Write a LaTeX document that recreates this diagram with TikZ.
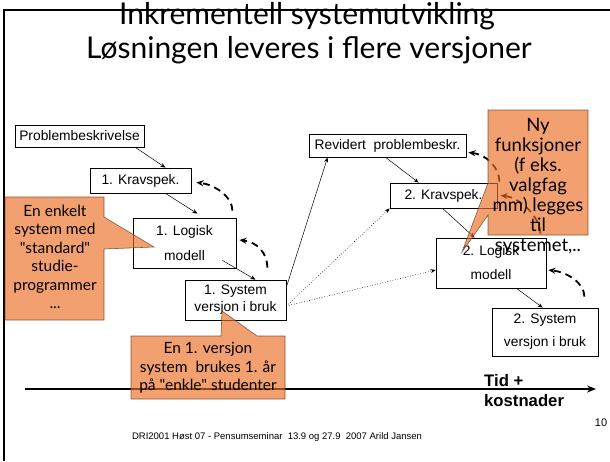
\documentclass[tikz,border=0pt]{standalone}
\usepackage{fontspec}
\setmainfont{Liberation Sans}
\newfontfamily\comicf{Lato}
\usetikzlibrary{arrows.meta}
\definecolor{bubblefill}{RGB}{238,110,36}
\definecolor{bubbleedge}{RGB}{110,60,30}
\begin{document}
\begin{tikzpicture}[x=1pt,y=-1pt,
  box/.style={draw=black, line width=0.8pt, fill=white, inner sep=0pt, font=\fontsize{13.8}{16}\selectfont, align=center},
  conn/.style={line width=0.5pt, -{Stealth[length=5pt,width=4pt]}},
  dotconn/.style={line width=0.6pt, dotted, -{Stealth[length=5pt,width=4pt]}},
  dasharc/.style={line width=1.8pt, dash pattern=on 7pt off 5pt, -{Stealth[length=7pt,width=6pt]}},
  bubble/.style={fill=bubblefill, fill opacity=0.65, draw=bubbleedge, draw opacity=0.8, line width=0.6pt},
  btext/.style={font=\comicf\fontsize{15.5}{18.5}\selectfont, align=center, inner sep=0pt},
]
\useasboundingbox (0,0) rectangle (610,461);
\fill[white] (0,0) rectangle (610,461);
% frame
\draw[line width=2pt] (4,461) -- (4,10) -- (610,10);
% title
\node[font=\comicf\fontsize{30}{34}\selectfont, anchor=base] (t1) at (307,24) {Inkrementell systemutvikling};
\node[font=\comicf\fontsize{30}{34}\selectfont, anchor=base] (t2) at (309,58) {Løsningen leveres i flere versjoner};
% boxes
\node[box, minimum width=129pt, minimum height=22pt] (pb) at (79.5,136) {Problembeskrivelse};
\node[box, minimum width=101pt, minimum height=25pt] (k1) at (140.5,180.5) {1. Kravspek.};
\node[box, minimum width=103pt, minimum height=50pt] (l1) at (184.5,243) {1. Logisk\\[9pt]modell};
\node[box, minimum width=101pt, minimum height=40pt] (s1) at (235.5,300) {1. System\\[1pt]versjon i bruk};
\node[box, minimum width=157pt, minimum height=23pt] (rp) at (387.5,145.5) {Revidert\ \ problembeskr.};
\node[box, minimum width=107pt, minimum height=25pt] (k2) at (443.5,195.5) {2. Kravspek.};
\node[box, minimum width=110pt, minimum height=50pt] (l2) at (491,263) {2. Logisk\\[8pt]modell};
\node[box, minimum width=106pt, minimum height=48pt] (s2) at (545,332) {2. System\\[7pt]versjon i bruk};
% solid connectors
\draw[conn] ([xshift=-9pt]pb.south east) -- ([xshift=-26pt]k1.north east);
\draw[conn] ([xshift=-26pt]k1.south east) -- ([xshift=-39pt,yshift=4pt]l1.north east);
\draw[conn] ([xshift=-14pt,yshift=8pt]l1.south east) -- ([xshift=-31pt]s1.north east);
\draw[conn] ([yshift=13pt]s1.east) -- ([xshift=19pt]rp.south west);
\draw[conn] ([xshift=77pt]rp.south west) -- ([xshift=29pt]k2.north west);
\draw[conn] ([xshift=53pt]k2.south west) -- ([xshift=39pt]l2.north west);
\draw[conn] ([xshift=81pt]l2.south west) -- ([xshift=51pt]s2.north west);
% dotted connectors
\draw[dotconn] ([yshift=-6pt]s1.east) -- (k2.south west);
\draw[dotconn] ([yshift=-6pt]s1.east) -- ([yshift=-7pt]l2.west);
% dashed feedback arcs
\draw[dasharc] ([xshift=-4pt,yshift=7pt]l1.north east) .. controls +(0,-14) and +(18,2) .. ([xshift=5pt,yshift=-2pt]k1.east);
\draw[dasharc] ([xshift=-19pt,yshift=12pt]s1.north east) .. controls +(0,-14) and +(18,2) .. ([xshift=3pt,yshift=3pt]l1.east);
\draw[dasharc] ([xshift=2pt,yshift=1pt]k2.north east) .. controls +(0,-14) and +(18,2) .. ([xshift=2pt,yshift=-7pt]rp.east);
\draw[dasharc] ([xshift=-6pt,yshift=4pt]l2.north east) .. controls +(0,-16) and +(20,2) .. ([xshift=3pt]k2.east);
\draw[dasharc] ([xshift=-14pt,yshift=11pt]s2.north east) .. controls +(0,-14) and +(18,2) .. ([xshift=2pt,yshift=-7pt]l2.east);
% time axis
\coordinate (ax0) at (25,389);
\coordinate (ax1) at (596,389);
\draw[line width=2pt, -{Stealth[length=9pt,width=7pt]}] (ax0) -- (ax1);
% callouts
\path[bubble] (5,197) -- (104,197) -- (104,217) -- (154,247) -- (104,249) -- (104,320) -- (5,320) -- cycle;
\path[bubble] (131,336) -- (221,336) -- (222,311) -- (257,336) -- (285,336) -- (285,399) -- (131,399) -- cycle;
\path[bubble] (488,110) -- (588,110) -- (588,235) -- (488,235) -- (488,215) -- (462,252) -- (488,183) -- cycle;
\node[btext] (tl) at (55,257) {En enkelt\\system med\\"standard"\\studie-\\programmer\\...};
\node[btext] (tb) at (208,368) {En 1. versjon\\system\ \ brukes 1. år\\på "enkle" studenter};
\node[btext, font=\comicf\fontsize{18.5}{20}\selectfont] (tr) at (538,186) {Ny\\funksjoner\\(f eks.\\valgfag\\mm) legges\\til\\systemet,..};
% axis label
\node[font=\bfseries\fontsize{16.7}{20}\selectfont, anchor=base west, inner sep=0pt] (tid) at (484,386) {Tid +};
\node[font=\bfseries\fontsize{16.7}{20}\selectfont, anchor=base west, inner sep=0pt] (kost) at (484,406) {kostnader};
% footer
\node[font=\fontsize{9.5}{11}\selectfont] (foot) at (277,437) {DRI2001 Høst 07 - Pensumseminar\ \ 13.9 og 27.9\ \ 2007 Arild Jansen};
\node[font=\fontsize{11}{13}\selectfont] (pg) at (601,423) {10};
\end{tikzpicture}
\end{document}
